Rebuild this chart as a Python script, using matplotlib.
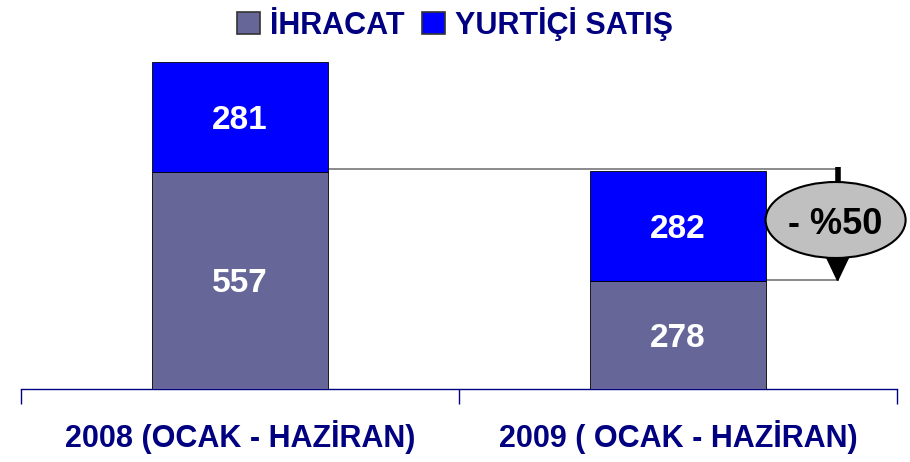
"""2008 ve 2009 ilk yarı ihracat / yurtiçi satış karşılaştırması."""

import matplotlib
matplotlib.use("Agg")
import matplotlib.pyplot as plt
from matplotlib.font_manager import FontProperties
from matplotlib.patches import Ellipse, Polygon
import numpy as np

plt.rcParams["font.family"] = ["Liberation Sans", "DejaVu Sans"]

categories = ["2008 (OCAK - HAZİRAN)", "2009 ( OCAK - HAZİRAN)"]
ihracat = [557, 278]
yurtici = [281, 282]
change_label = "- %50"

COLOR_IHRACAT = "#666699"
COLOR_YURTICI = "#0000FF"
NAVY = "#000080"

fig = plt.figure(figsize=(9.1, 4.62), dpi=100)
ax = fig.add_axes([21 / 910, 73 / 462, 876 / 910, 349 / 462])

x = np.arange(len(categories))
width = 0.40
ihracat = np.array(ihracat)
yurtici = np.array(yurtici)
totals = ihracat + yurtici

ax.bar(x, ihracat, width, color=COLOR_IHRACAT, edgecolor="black", linewidth=0.6,
       label="İHRACAT", zorder=3)
ax.bar(x, yurtici, width, bottom=ihracat, color=COLOR_YURTICI, edgecolor="black",
       linewidth=0.6, label="YURTİÇİ SATIŞ", zorder=3)

for i in range(len(x)):
    ax.text(x[i], ihracat[i] / 2, f"{ihracat[i]}", ha="center", va="center_baseline",
            color="white", fontsize=24, fontweight="bold", zorder=4)
    ax.text(x[i], ihracat[i] + yurtici[i] / 2, f"{yurtici[i]}", ha="center",
            va="center_baseline", color="white", fontsize=24, fontweight="bold", zorder=4)

ax.set_xlim(-0.5, 1.5)
ax.set_ylim(0, 349 / 0.39)

# karşılaştırma çizgileri ve %50 balonu
px_x = 1 / 438          # bir pikselin x veri karşılığı
px_y = 1 / 0.39         # bir pikselin y veri karşılığı
arrow_x = x[1] + width / 2 + 72 * px_x
ax.plot([x[0] + width / 2, arrow_x], [totals[1] + 5, totals[1] + 5],
        color="#777777", linewidth=1.2, zorder=2)
ax.plot([x[1] + width / 2, arrow_x], [ihracat[1] + 1, ihracat[1] + 1],
        color="#777777", linewidth=1.2, zorder=2)
ax.plot([arrow_x, arrow_x], [totals[1] + 8, totals[1] - 30],
        color="black", linewidth=4, solid_capstyle="butt", zorder=5)
tri = Polygon([[arrow_x - 13 * px_x, ihracat[1] + 70],
               [arrow_x + 13 * px_x, ihracat[1] + 70],
               [arrow_x, ihracat[1]]], closed=True, color="black", zorder=5)
ax.add_patch(tri)
ell_y = (389 - 220) * px_y
ax.add_patch(Ellipse((arrow_x - 2 * px_x, ell_y), 140 * px_x, 76 * px_y,
                     facecolor="#C0C0C0", edgecolor="black", linewidth=1.5,
                     zorder=6, clip_on=False))
ax.text(arrow_x - 2 * px_x, ell_y, change_label, ha="center", va="center_baseline",
        fontsize=26, fontweight="bold", color="black", zorder=7)

# eksen görünümü
for side in ["top", "right", "left"]:
    ax.spines[side].set_visible(False)
ax.spines["bottom"].set_color(NAVY)
ax.spines["bottom"].set_linewidth(1.0)
ax.set_yticks([])
ax.set_xticks([-0.5, 0.5, 1.5], minor=False)
ax.set_xticklabels([])
ax.tick_params(axis="x", which="major", length=11, color=NAVY, width=1.0, direction="out")
ax.set_xticks(x, minor=True)
ax.set_xticklabels(categories, minor=True, fontsize=22, fontweight="bold", color=NAVY)
ax.tick_params(axis="x", which="minor", length=0, pad=22)

legend_font = FontProperties(family="Liberation Sans", weight="bold", size=22)
leg = fig.legend(loc="upper center", bbox_to_anchor=(0.5, 1.045), ncol=2, frameon=False,
                 handlelength=0.75, handleheight=0.75, handletextpad=0.3, columnspacing=0.6,
                 prop=legend_font)
for t in leg.get_texts():
    t.set_color(NAVY)
for h in leg.legend_handles:
    h.set_edgecolor("#333333")
    h.set_linewidth(1.2)

fig.savefig("out.png", dpi=100)
